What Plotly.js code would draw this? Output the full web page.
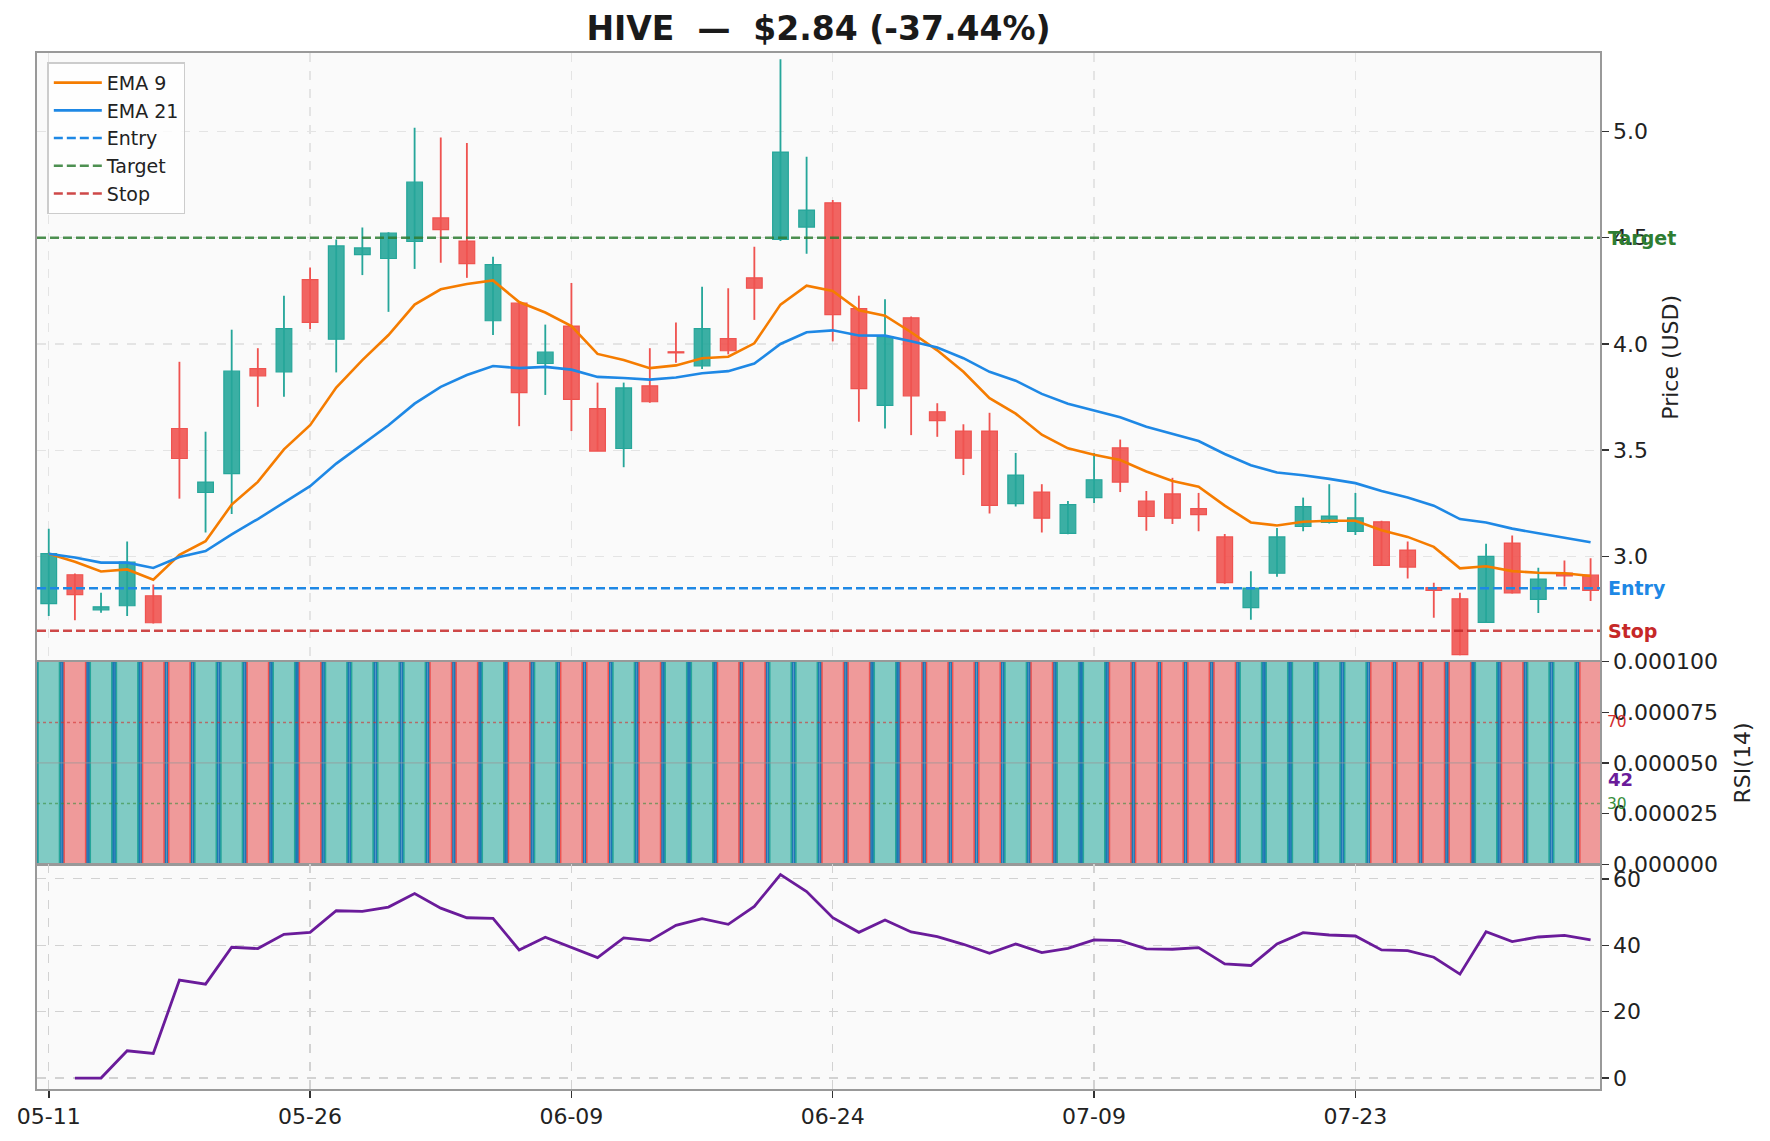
<!DOCTYPE html>
<html>
<head>
<meta charset="utf-8">
<script src="https://cdn.plot.ly/plotly-3.0.1.min.js"></script>
<style>
  body { margin: 0; background: #fff; }
  #chart { width: 1770px; height: 1141px; }
</style>
</head>
<body>
<div id="chart"></div>
<script>
// ticks every 10 sessions
const tickIdx = [0, 10, 20, 30, 40, 50];
const tickLabels = ['05-11', '05-26', '06-09', '06-24', '07-09', '07-23'];

// daily candles
const open  = [2.778, 2.914, 2.749, 2.768, 2.815, 3.602, 3.301, 3.390, 3.884, 3.869,
               4.303, 4.022, 4.420, 4.402, 4.482, 4.593, 4.484, 4.109, 4.192, 3.908,
               4.084, 3.696, 3.508, 3.803, 3.963, 3.897, 4.025, 4.311, 4.492, 4.550,
               4.664, 4.166, 3.711, 4.123, 3.681, 3.590, 3.590, 3.249, 3.303, 3.109,
               3.277, 3.511, 3.261, 3.294, 3.225, 3.092, 2.759, 2.921, 3.141, 3.160,
               3.118, 3.163, 3.030, 2.853, 2.801, 2.690, 3.063, 2.798, 2.922, 2.912];
const high  = [3.130, 2.920, 2.829, 3.070, 2.868, 3.916, 3.587, 4.067, 3.980, 4.227,
               4.360, 4.491, 4.548, 4.525, 5.017, 4.971, 4.946, 4.410, 4.195, 4.091,
               4.287, 3.818, 3.818, 3.980, 4.101, 4.269, 4.262, 4.457, 5.340, 4.881,
               4.677, 4.227, 4.210, 4.129, 3.721, 3.622, 3.676, 3.487, 3.340, 3.261,
               3.487, 3.550, 3.308, 3.370, 3.299, 3.106, 2.930, 3.134, 3.277, 3.340,
               3.299, 3.168, 3.070, 2.876, 2.829, 3.060, 3.099, 2.947, 2.981, 2.992];
const low   = [2.720, 2.700, 2.735, 2.720, 2.684, 3.272, 3.113, 3.200, 3.704, 3.751,
               4.070, 3.866, 4.324, 4.151, 4.353, 4.382, 4.311, 4.042, 3.613, 3.760,
               3.590, 3.496, 3.420, 3.723, 3.911, 3.882, 3.951, 4.113, 4.484, 4.424,
               4.012, 3.634, 3.602, 3.571, 3.563, 3.383, 3.202, 3.235, 3.113, 3.105,
               3.252, 3.303, 3.121, 3.153, 3.119, 2.872, 2.702, 2.904, 3.119, 3.155,
               3.101, 2.958, 2.896, 2.712, 2.535, 2.687, 2.826, 2.734, 2.859, 2.790];
const close = [3.013, 2.820, 2.763, 2.973, 2.688, 3.461, 3.350, 3.872, 3.850, 4.072,
               4.101, 4.461, 4.452, 4.521, 4.761, 4.538, 4.378, 4.373, 3.771, 3.961,
               3.739, 3.496, 3.793, 3.728, 3.958, 4.072, 3.968, 4.262, 4.903, 4.630,
               4.138, 3.790, 4.034, 3.756, 3.639, 3.462, 3.240, 3.383, 3.180, 3.244,
               3.361, 3.350, 3.188, 3.180, 3.197, 2.877, 2.851, 3.092, 3.234, 3.190,
               3.182, 2.958, 2.950, 2.840, 2.538, 3.000, 2.828, 2.894, 2.908, 2.840];

const ema9  = [3.013, 2.975, 2.929, 2.939, 2.891, 3.008, 3.072, 3.244, 3.351, 3.504,
               3.618, 3.795, 3.924, 4.042, 4.185, 4.257, 4.282, 4.299, 4.197, 4.148,
               4.084, 3.953, 3.924, 3.886, 3.899, 3.933, 3.940, 4.003, 4.185, 4.274,
               4.249, 4.158, 4.133, 4.055, 3.970, 3.869, 3.745, 3.672, 3.573, 3.509,
               3.479, 3.454, 3.400, 3.355, 3.328, 3.239, 3.160, 3.146, 3.163, 3.168,
               3.168, 3.123, 3.092, 3.045, 2.944, 2.954, 2.931, 2.923, 2.921, 2.908];
const ema21 = [3.013, 2.995, 2.971, 2.971, 2.946, 2.997, 3.025, 3.104, 3.176, 3.255,
               3.331, 3.437, 3.529, 3.617, 3.719, 3.798, 3.854, 3.896, 3.886, 3.892,
               3.879, 3.845, 3.840, 3.832, 3.842, 3.862, 3.872, 3.908, 4.000, 4.055,
               4.064, 4.040, 4.039, 4.013, 3.983, 3.933, 3.869, 3.827, 3.765, 3.719,
               3.687, 3.655, 3.610, 3.575, 3.543, 3.482, 3.429, 3.395, 3.382, 3.365,
               3.345, 3.308, 3.277, 3.239, 3.176, 3.160, 3.131, 3.109, 3.089, 3.067];

const rsi   = [null, 0, 0, 8.2, 7.4, 29.5, 28.3, 39.4, 39.0, 43.3,
               43.9, 50.4, 50.2, 51.5, 55.6, 51.2, 48.3, 48.1, 38.6, 42.4,
               39.4, 36.3, 42.2, 41.4, 46.0, 48.0, 46.3, 51.7, 61.3, 56.2,
               48.3, 43.9, 47.6, 44.0, 42.6, 40.3, 37.6, 40.4, 37.8, 39.1,
               41.6, 41.4, 38.9, 38.8, 39.3, 34.4, 33.9, 40.4, 43.8, 43.1,
               42.8, 38.6, 38.4, 36.4, 31.3, 44.1, 41.1, 42.5, 43.0, 41.6];

// every volume bar runs past the top of its (0 .. 0.0001) panel
const volume = [1.2e-4, 1.2e-4, 1.2e-4, 1.2e-4, 1.2e-4, 1.2e-4, 1.2e-4, 1.2e-4, 1.2e-4, 1.2e-4,
                1.2e-4, 1.2e-4, 1.2e-4, 1.2e-4, 1.2e-4, 1.2e-4, 1.2e-4, 1.2e-4, 1.2e-4, 1.2e-4,
                1.2e-4, 1.2e-4, 1.2e-4, 1.2e-4, 1.2e-4, 1.2e-4, 1.2e-4, 1.2e-4, 1.2e-4, 1.2e-4,
                1.2e-4, 1.2e-4, 1.2e-4, 1.2e-4, 1.2e-4, 1.2e-4, 1.2e-4, 1.2e-4, 1.2e-4, 1.2e-4,
                1.2e-4, 1.2e-4, 1.2e-4, 1.2e-4, 1.2e-4, 1.2e-4, 1.2e-4, 1.2e-4, 1.2e-4, 1.2e-4,
                1.2e-4, 1.2e-4, 1.2e-4, 1.2e-4, 1.2e-4, 1.2e-4, 1.2e-4, 1.2e-4, 1.2e-4, 1.2e-4];
// volume bar colour as drawn (1 = green, 0 = red)
const volUp = [1, 0, 1, 1, 0, 0, 1, 1, 0, 1,
               0, 1, 1, 1, 1, 0, 0, 1, 0, 1,
               0, 0, 1, 0, 1, 1, 0, 0, 1, 1,
               0, 0, 1, 0, 0, 0, 0, 1, 0, 1,
               1, 0, 0, 0, 0, 0, 1, 1, 1, 1,
               1, 0, 0, 0, 0, 1, 0, 1, 1, 0];

const entry = 2.85, target = 4.5, stop = 2.65;
const rsiHigh = 70, rsiLow = 30;

const GREEN = '#26a69a', RED = '#ef5350';
const idx = close.map((_, i) => i);
const up = close.map((c, i) => c >= open[i]);

// wicks first, bodies over them
const wicks = {
  type: 'bar', x: idx, base: low, y: high.map((h, i) => h - low[i]),
  width: 0.07, marker: { color: up.map(u => u ? GREEN : RED) },
  xaxis: 'x', yaxis: 'y', showlegend: false, hoverinfo: 'skip'
};
const bodies = {
  type: 'bar', x: idx,
  base: close.map((c, i) => Math.min(c, open[i])),
  y: close.map((c, i) => Math.abs(c - open[i])),
  width: 0.6,
  marker: {
    color: up.map(u => u ? 'rgba(38,166,154,0.9)' : 'rgba(239,83,80,0.9)'),
    line: { color: up.map(u => u ? GREEN : RED), width: 1.2 }
  },
  xaxis: 'x', yaxis: 'y', showlegend: false, hoverinfo: 'skip'
};
const ema9Line = {
  type: 'scatter', mode: 'lines', x: idx, y: ema9, name: 'EMA 9',
  line: { color: '#f57c00', width: 2.6 }, xaxis: 'x', yaxis: 'y'
};
const ema21Line = {
  type: 'scatter', mode: 'lines', x: idx, y: ema21, name: 'EMA 21',
  line: { color: '#1e88e5', width: 2.6 }, xaxis: 'x', yaxis: 'y'
};

const volBack = {
  type: 'bar', x: idx, y: volume, width: 1.0,
  marker: { color: '#1f77b4' },
  xaxis: 'x2', yaxis: 'y2', showlegend: false, hoverinfo: 'skip'
};
const volBars = {
  type: 'bar', x: idx, y: volume, width: 0.82,
  marker: {
    color: volUp.map(u => u ? '#80cbc4' : '#ef9a9a'),
    line: { color: volUp.map(u => u ? '#26a69a' : '#ef5350'), width: 1.5 }
  },
  xaxis: 'x2', yaxis: 'y2', showlegend: false, hoverinfo: 'skip'
};

const rsiLine = {
  type: 'scatter', mode: 'lines', x: idx, y: rsi,
  line: { color: '#6a1b9a', width: 2.8 },
  xaxis: 'x3', yaxis: 'y3', showlegend: false, hoverinfo: 'skip'
};

const axisLine = { showline: true, mirror: true, linecolor: '#999999', linewidth: 1.6, zeroline: false };
const tickFont = { family: 'DejaVu Sans', size: 22, color: '#222' };

function hline(y, yref, color, dash, width, name) {
  const s = {
    type: 'line', xref: 'paper', x0: 0, x1: 1, yref: yref, y0: y, y1: y,
    line: { color: color, width: width, dash: dash }
  };
  if (name) { s.name = name; s.showlegend = true; }
  return s;
}

const layout = {
  width: 1770, height: 1141,
  margin: { l: 37, r: 170, t: 53, b: 52 },
  paper_bgcolor: '#ffffff',
  plot_bgcolor: '#fafafa',
  font: { family: 'DejaVu Sans', color: '#222' },
  barmode: 'overlay',
  title: {
    text: 'HIVE  —  $2.84 (-37.44%)',
    font: { family: 'DejaVu Sans', size: 33, weight: 'bold', color: '#1a1a1a' },
    xref: 'paper', x: 0.5, xanchor: 'center',
    yref: 'container', y: 0.9755, yanchor: 'middle'
  },
  showlegend: true,
  legend: {
    x: 0.0066, y: 0.991, xanchor: 'left', yanchor: 'top',
    bgcolor: 'rgba(255,255,255,0.8)', bordercolor: '#cccccc', borderwidth: 1.5,
    itemwidth: 48, tracegroupgap: 0,
    font: { family: 'DejaVu Sans', size: 19, color: '#222' }
  },
  xaxis: Object.assign({
    domain: [0, 1], anchor: 'y', range: [-0.45, 59.36],
    tickvals: tickIdx, ticktext: tickLabels, showticklabels: false, ticks: '',
    showgrid: true, gridcolor: '#e4e4e4', griddash: 'dash', gridwidth: 1.2
  }, axisLine),
  xaxis2: Object.assign({
    domain: [0, 1], anchor: 'y2', matches: 'x',
    tickvals: tickIdx, showticklabels: false, ticks: '', showgrid: false
  }, axisLine),
  xaxis3: Object.assign({
    domain: [0, 1], anchor: 'y3', matches: 'x',
    tickvals: tickIdx, ticktext: tickLabels, ticks: 'outside', ticklen: 7, tickwidth: 1.5,
    tickcolor: '#333', tickfont: tickFont,
    showgrid: true, gridcolor: '#d2d2d2', griddash: 'dash', gridwidth: 1.2
  }, axisLine),
  yaxis: Object.assign({
    domain: [0.4125, 1], anchor: 'x', side: 'right', range: [2.505, 5.369],
    tickvals: [3, 3.5, 4, 4.5, 5], ticktext: ['3.0', '3.5', '4.0', '4.5', '5.0'],
    ticks: 'outside', ticklen: 7, tickwidth: 1.5, tickcolor: '#333', tickfont: tickFont,
    showgrid: true, gridcolor: '#e4e4e4', griddash: 'dash', gridwidth: 1.2,
    title: { text: 'Price (USD)', font: { family: 'DejaVu Sans', size: 22, color: '#222' }, standoff: 15 }
  }, axisLine),
  yaxis2: Object.assign({
    domain: [0.2169, 0.4125], anchor: 'x2', side: 'right', range: [0, 0.0001],
    tickvals: [0, 0.000025, 0.00005, 0.000075, 0.0001], tickformat: '.6f',
    ticks: 'outside', ticklen: 7, tickwidth: 1.5, tickcolor: '#333', tickfont: tickFont,
    showgrid: false,
    title: { text: 'RSI(14)', font: { family: 'DejaVu Sans', size: 22, color: '#222' }, standoff: 17 }
  }, axisLine),
  yaxis3: Object.assign({
    domain: [0, 0.2169], anchor: 'x3', side: 'right', range: [-3.3, 64.4],
    tickvals: [0, 20, 40, 60],
    ticks: 'outside', ticklen: 7, tickwidth: 1.5, tickcolor: '#333', tickfont: tickFont,
    showgrid: true, gridcolor: '#d2d2d2', griddash: 'dash', gridwidth: 1.2
  }, axisLine),
  yaxis4: {
    overlaying: 'y2', anchor: 'x2', range: [0, 100], visible: false, fixedrange: true
  },
  shapes: [
    hline(entry, 'y', '#1e88e5', '9px,4px', 2.5, 'Entry'),
    hline(target, 'y', 'rgba(46,125,50,0.85)', '9px,4px', 2.5, 'Target'),
    hline(stop, 'y', 'rgba(198,40,40,0.85)', '9px,4px', 2.5, 'Stop'),
    hline(rsiHigh, 'y4', 'rgba(211,47,47,0.6)', 'dot', 1.6),
    hline(rsiLow, 'y4', 'rgba(56,142,60,0.6)', 'dot', 1.6),
    hline(50, 'y4', 'rgba(150,150,150,0.6)', 'solid', 1.2)
  ],
  annotations: [
    { xref: 'paper', x: 1, xanchor: 'left', xshift: 6, yref: 'y', y: target, yanchor: 'middle',
      text: '<b>Target</b>', showarrow: false, font: { size: 19, color: '#2e7d32' } },
    { xref: 'paper', x: 1, xanchor: 'left', xshift: 6, yref: 'y', y: entry, yanchor: 'middle',
      text: '<b>Entry</b>', showarrow: false, font: { size: 19, color: '#1e88e5' } },
    { xref: 'paper', x: 1, xanchor: 'left', xshift: 6, yref: 'y', y: stop, yanchor: 'middle',
      text: '<b>Stop</b>', showarrow: false, font: { size: 19, color: '#c62828' } },
    { xref: 'paper', x: 1, xanchor: 'left', xshift: 5, yref: 'y4', y: rsiHigh, yanchor: 'middle',
      text: String(rsiHigh), showarrow: false, font: { size: 15.5, color: '#d32f2f' } },
    { xref: 'paper', x: 1, xanchor: 'left', xshift: 5, yref: 'y4', y: rsiLow, yanchor: 'middle',
      text: String(rsiLow), showarrow: false, font: { size: 15.5, color: '#388e3c' } },
    { xref: 'paper', x: 1, xanchor: 'left', xshift: 6, yref: 'y4', y: rsi[rsi.length - 1], yanchor: 'middle',
      text: '<b>' + Math.round(rsi[rsi.length - 1]) + '</b>', showarrow: false,
      font: { size: 18, color: '#6a1b9a' } }
  ]
};

Plotly.newPlot('chart', [wicks, bodies, ema9Line, ema21Line, volBack, volBars, rsiLine], layout,
  { displayModeBar: false, staticPlot: true });
</script>
</body>
</html>
